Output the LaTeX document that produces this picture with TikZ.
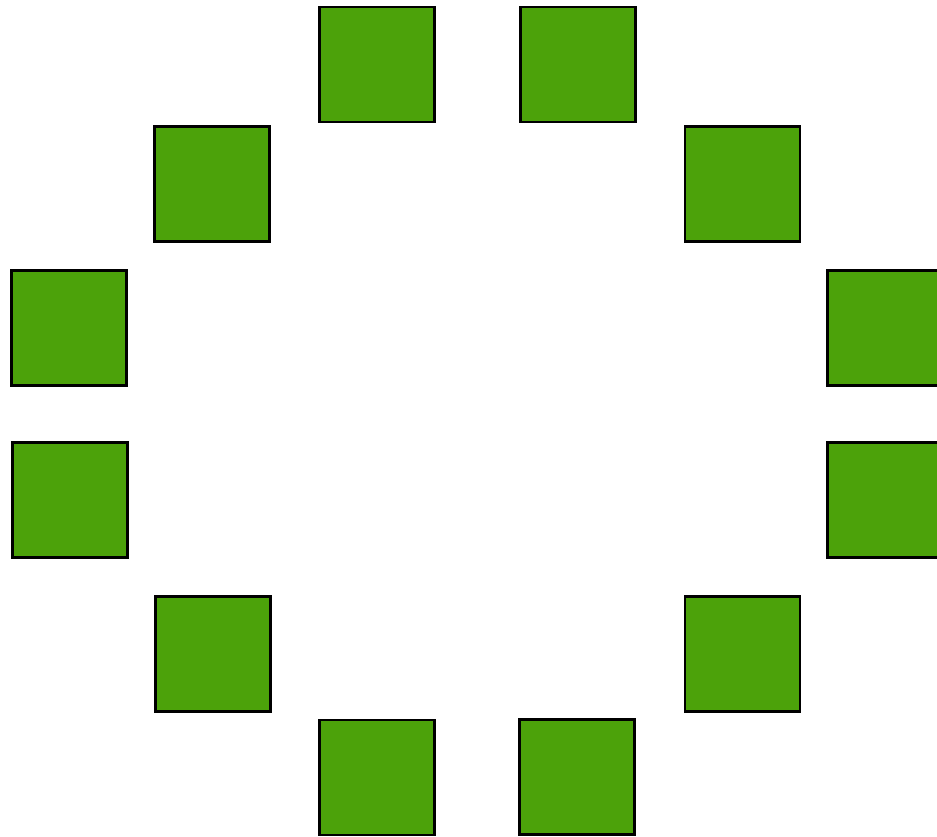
\documentclass[tikz,border=0pt]{standalone}
\usepackage{xcolor}
\definecolor{leafgreen}{HTML}{4CA20A}
\tikzset{seat/.style={draw=black, line width=1.6pt, fill=leafgreen,
    inner sep=0pt, minimum size=2.3cm}}

\begin{document}
\begin{tikzpicture}[x=0.02cm, y=-0.02cm]
    \useasboundingbox (0,0) rectangle (937,837);
    \clip (0,0) rectangle (937,837);
    \node[seat] (T1) at (377,64.5) {}; \node[seat] (T2) at (578,64.5) {};
    \node[seat] (UL) at (212,184) {}; \node[seat] (UR) at (742.5,184) {};
    \node[seat] (L1) at (69,328) {}; \node[seat] (R1) at (885,328) {};
    \node[seat] (L2) at (70,500) {}; \node[seat] (R2) at (885,500) {};
    \node[seat] (DL) at (213,654) {}; \node[seat] (DR) at (742.5,654) {};
    \node[seat] (B1) at (377,777.5) {}; \node[seat] (B2) at (577,777) {};
  \end{tikzpicture}
\end{document}
